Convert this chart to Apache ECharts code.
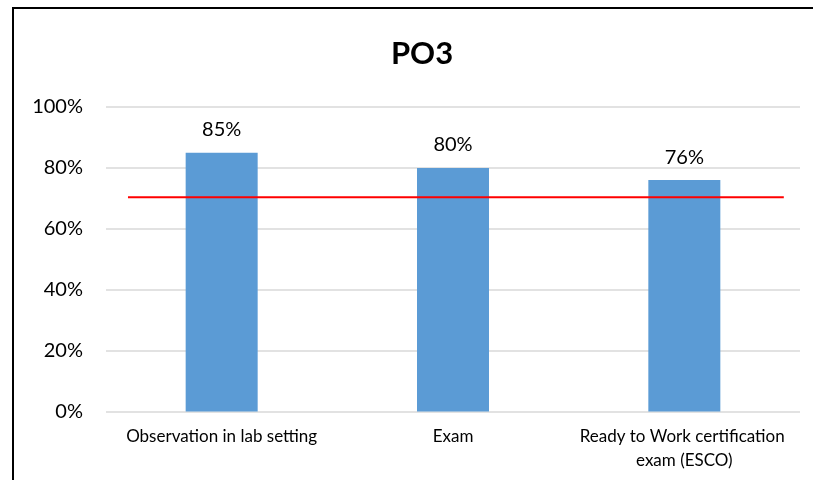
<!DOCTYPE html>
<html lang="en">
<head>
    <meta charset="UTF-8">
    <title>PO3</title>
    <script src="https://cdn.jsdelivr.net/npm/echarts@6/dist/echarts.min.js"></script>
    <style>
        *{ margin: 0; }
        html,body{ height: 100%; background: #fff; overflow: hidden; }
        #po3{ width: 813px; height: 480px; }
    </style>
</head>
<body>
<div id="po3"></div>
<script>
    // data
    let categories = ['Observation in lab setting', 'Exam', 'Ready to Work certification exam (ESCO)'];
    let scores = [85, 80, 76];
    let yTicks = [0, 20, 40, 60, 80, 100];
    // target line: x in category units (0..3), y in percent
    let targetLine = [[0.095, 70.4], [2.93, 70.4]];

    let chart = echarts.init(document.getElementById('po3'));
    chart.setOption({
        animation: false,
        textStyle: { fontFamily: 'Lato' },
        title: {
            text: 'PO3',
            left: 417,
            top: 33,
            textAlign: 'center',
            textStyle: { fontSize: 31, fontWeight: 'bold', color: '#000', fontFamily: 'Lato' }
        },
        // chart frame: only the left and top edges fall inside the picture
        graphic: [{
            type: 'polyline',
            shape: { points: [[13, 490], [13, 8], [830, 8]] },
            style: { fill: 'none', stroke: '#000', lineWidth: 2 },
            silent: true
        }],
        grid: { left: 106, right: 13, top: 107, bottom: 68.5 },
        xAxis: [{
            type: 'category',
            data: categories,
            axisLine: { show: false },
            axisTick: { show: false },
            axisLabel: {
                interval: 0,
                color: '#000',
                fontSize: 17,
                lineHeight: 24,
                margin: 13,
                width: 215,
                overflow: 'break'
            }
        }, {
            type: 'value',
            min: 0,
            max: 3,
            show: false
        }],
        yAxis: {
            type: 'value',
            min: yTicks[0],
            max: yTicks[yTicks.length - 1],
            interval: 20,
            axisLine: { show: false },
            axisTick: { show: false },
            axisLabel: {
                color: '#000',
                fontSize: 20,
                margin: 23,
                formatter: v => v + '%'
            },
            splitLine: { lineStyle: { color: '#D9D9D9', width: 1.5 } }
        },
        series: [{
            type: 'bar',
            data: scores,
            barWidth: 72,
            itemStyle: { color: '#5B9BD5' },
            label: {
                show: true,
                position: 'top',
                distance: 13,
                color: '#000',
                fontSize: 20,
                formatter: p => p.value + '%'
            }
        }, {
            type: 'line',
            xAxisIndex: 1,
            data: targetLine,
            symbol: 'none',
            lineStyle: { color: '#FF0000', width: 2 },
            z: 5
        }]
    });
</script>
</body>
</html>
